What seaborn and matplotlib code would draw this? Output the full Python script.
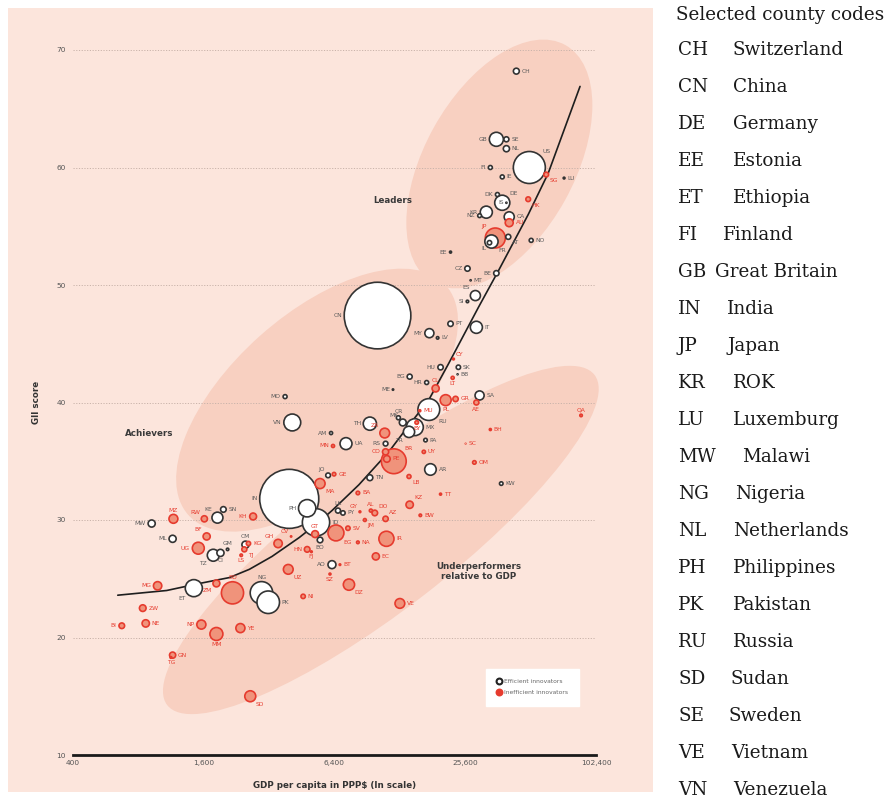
import numpy as np
import pandas as pd
import matplotlib
matplotlib.use("Agg")
import matplotlib.pyplot as plt
import seaborn as sns
from matplotlib.patches import Ellipse, Rectangle
from matplotlib import transforms as mtransforms
from matplotlib.lines import Line2D
from matplotlib.ticker import NullLocator

# ---------------- data ----------------
codes = ["CH","GB","SE","NL","FI","US","SG","LU","IE","DK","DE","IS","HK","KR","NZ","CA","AU","JP","FR","IL",
         "AT","NO","EE","CZ","MT","BE","ES","SI","PT","IT","MY","LV","CY","HU","SK","BB","LT","BG","ME","HR",
         "CL","PL","GR","SA","AE","RU","MU","QA","MO","VN","CR","TH","MK","MX","BY","TR","PA","AM","UA","MN",
         "ZA","RS","CO","BR","PE","BH","SC","OM","KW","AR","UY","LB","KZ","TT","BW","JO","GE","MA","TN","CN",
         "IN","PH","ID","LK","PY","BA","GY","AL","DO","AZ","JM","SV","EG","NA","IR","EC","GT","BO","HN","FJ",
         "AO","BT","SZ","UZ","DZ","NI","VE","NG","PK","MW","MZ","RW","KE","SN","KH","ML","BF","UG","TZ","CI",
         "GM","CM","TJ","KG","LS","GH","CV","MG","ET","ZM","BD","ZW","BI","NE","NP","MM","YE","GN","TG","SD"]

gdp = [44000,35600,39600,39600,33400,50500,60400,73000,37900,36000,37900,39600,49900,32000,29800,40800,40800,35200,33800,33100,
       40400,51500,21900,26200,27100,35600,28500,26200,21900,28800,17500,19100,22600,19700,23800,23600,22400,14200,11900,17000,
       18700,20800,23100,29800,28800,17400,15800,87400,3790,4090,12600,9310,13200,15000,15300,14100,16800,6170,7230,6300,
       10900,11000,11000,12000,11150,33400,25700,28200,37500,17700,16500,14100,14200,19700,15900,5980,6370,5490,9310,10100,
       3960,4790,5260,6640,7000,8200,8380,9410,9810,11000,8830,7380,6500,8200,11100,9920,5210,5490,4790,5010,
       6230,6780,6100,3920,7460,4590,12800,2950,3170,921,1160,1610,1850,1970,2700,1150,1650,1510,1770,1910,
       2060,2490,2460,2570,2380,3520,4040,981,1440,1830,2170,838,671,865,1560,1830,2360,1150,1130,2620]

score = [68.2,62.4,62.4,61.6,60.0,60.0,59.4,59.1,59.2,57.7,57.0,57.0,57.3,56.2,55.9,55.8,55.3,54.0,53.7,53.6,
         54.1,53.8,52.8,51.4,50.4,51.0,49.1,48.6,46.7,46.4,45.9,45.5,43.7,43.0,43.0,42.4,42.1,42.2,41.1,41.7,
         41.2,40.2,40.3,40.6,40.0,39.4,39.3,38.9,40.5,38.3,38.7,38.2,38.3,37.9,38.3,37.5,36.8,37.4,36.5,36.3,
         37.4,36.5,35.8,35.0,35.2,37.7,36.5,34.9,33.1,34.3,35.8,33.7,31.3,32.2,30.4,33.8,33.9,33.1,33.6,47.4,
         31.8,31.0,29.8,30.8,30.6,32.3,30.7,30.8,30.6,30.1,30.0,29.3,28.9,28.1,28.4,26.9,28.8,28.3,27.5,27.3,
         26.2,26.2,25.4,25.8,24.5,23.5,22.9,23.8,23.0,29.7,30.1,30.1,30.2,30.9,30.3,28.4,28.6,27.6,27.0,27.2,
         27.5,27.9,27.5,28.0,27.0,28.0,28.6,24.4,24.2,24.6,23.8,22.5,21.0,21.2,21.1,20.3,20.8,18.5,18.3,15.0]

population = [11,62,8,12,5,323,7,1,5,5,72,0.4,7,46,4.5,32,20,126,55,6,
              8,5,1.3,9,0.4,9,32,2,9,46,26,2,1,9,6,0.3,3,8,0.6,5,
              16,38,9,26,8,150,1.3,2,5,90,5,55,15,90,4,40,4,3,45,3,
              30,7,12,195,14,1.3,0.1,4,4,42,3.4,5,17,1.3,2,7,4,32,11,1400,
              1100,95,235,8,6,4,1,3,10,9,2.7,6,80,2.3,72,16,15,10,10,0.9,
              20,0.8,1.2,30,40,6,30,160,160,16,25,12,38,10,15,16,16,45,45,16,
              1.9,16,8,5.8,2,22,0.5,22,92,15,155,14,10,17,26,53,26,12,1,38]

inefficient_codes = ["SG","HK","AU","JP","CY","LT","CL","PL","GR","AE","MU","QA","BY","MN","ZA","CO","BR","PE",
                     "BH","SC","OM","UY","LB","KZ","TT","BW","GE","MA","BA","GY","AL","DO","AZ","JM","SV","EG",
                     "NA","IR","EC","GT","HN","FJ","BT","SZ","UZ","DZ","NI","VE","MZ","RW","KH","BF","UG","TJ",
                     "KG","LS","GH","CV","MG","ZM","BD","ZW","BI","NE","NP","MM","YE","GN","TG","SD"]

# trend curve
curve_gdp = [643,1080,1529,2100,2594,3300,4399,5400,6230,8290,11379,14000,17360,21445,29440,36364,49920,61660,86450]
curve_score = [23.6,24.0,24.6,25.1,25.8,26.9,28.5,29.8,30.8,33.0,35.8,38.0,40.2,43.3,48.1,51.2,56.0,59.5,66.9]

x_ticks = [400, 1600, 6400, 25600, 102400]
x_ticklabels = ["400", "1,600", "6,400", "25,600", "102,400"]
y_ticks = [10, 20, 30, 40, 50, 60, 70]

legend_labels = ["Efficient innovators", "Inefficient innovators"]

code_list = ["CH","CN","DE","EE","ET","FI","GB","IN","JP","KR","LU","MW","NG","NL","PH","PK","RU","SD","SE","VE","VN"]
name_list = ["Switzerland","China","Germany","Estonia","Ethiopia","Finland","Great Britain","India","Japan","ROK",
             "Luxemburg","Malawi","Nigeria","Netherlands","Philippines","Pakistan","Russia","Sudan","Sweden",
             "Vietnam","Venezuela"]

# ---------------- styling (not data) ----------------
label_pos = {
    "CH":"r","GB":"l","SE":"r","NL":"r","FI":"l","US":"ar","SG":"br","LU":"r","IE":"r","DK":"l","DE":"ar","IS":"l",
    "HK":"br","KR":"l","NZ":"l","CA":"r","AU":"r","JP":"al","FR":"br","IL":"bl","AT":"br","NO":"r","EE":"l","CZ":"l",
    "MT":"r","BE":"l","ES":"al","SI":"l","PT":"r","IT":"r","MY":"l","LV":"r","CY":"ar","HU":"l","SK":"r","BB":"r",
    "LT":"b","BG":"l","ME":"l","HR":"l","CL":"a","PL":"b","GR":"r","SA":"r","AE":"b","RU":"br","MU":"r","QA":"a",
    "MO":"l","VN":"l","CR":"a","TH":"l","MK":"al","MX":"r","BY":"b","TR":"bl","PA":"r","AM":"l","UA":"r","MN":"l",
    "ZA":"al","RS":"l","CO":"l","BR":"ar","PE":"r","BH":"r","SC":"r","OM":"r","KW":"r","AR":"r","UY":"r","LB":"br",
    "KZ":"ar","TT":"r","BW":"r","JO":"al","GE":"r","MA":"br","TN":"r","CN":"l","IN":"l","PH":"l","ID":"r","LK":"a",
    "PY":"r","BA":"r","GY":"al","AL":"a","DO":"ar","AZ":"ar","JM":"br","SV":"r","EG":"br","NA":"r","IR":"r","EC":"r",
    "GT":"a","BO":"b","HN":"l","FJ":"b","AO":"l","BT":"r","SZ":"b","UZ":"br","DZ":"br","NI":"r","VE":"r","NG":"a",
    "PK":"r","MW":"l","MZ":"a","RW":"al","KE":"al","SN":"r","KH":"l","ML":"l","BF":"al","UG":"l","TZ":"bl","CI":"b",
    "GM":"a","CM":"a","TJ":"br","KG":"r","LS":"b","GH":"al","CV":"al","MG":"l","ET":"bl","ZM":"bl","BD":"a","ZW":"r",
    "BI":"l","NE":"r","NP":"l","MM":"b","YE":"r","GN":"r","TG":"b","SD":"br"}

PANEL = "#fce5dc"
ZONE = "#f8d0c1"
RED = "#e63b2e"
SALMON = "#f0937b"
DARK = "#333333"
CHART_FONT = ["Liberation Sans Narrow", "DejaVu Sans"]

sns.set_style("white")
plt.rcParams["font.family"] = CHART_FONT

W, H = 894, 801
fig = plt.figure(figsize=(W / 100, H / 100), dpi=100)
fig.patch.set_facecolor("white")
fig.add_artist(Rectangle((8 / W, 9 / H), 645 / W, 784 / H, transform=fig.transFigure,
                         facecolor=PANEL, edgecolor="none", zorder=-5))

ax = fig.add_axes([73 / W, 46 / H, 523 / W, 705 / H])
ax.patch.set_visible(False)
ax.set_xscale("log", base=4)
ax.set_xlim(400, 102400)
ax.set_ylim(10, 70)

# background zones (sizes in pixels, centred on data coordinates)
zones = [((36750, 60.3), 272, 150, 61),
         ((5320, 40.2), 345, 172, 41.7),
         ((10460, 28.3), 540, 140, 37.7)]
for (cx, cy), w, h, ang in zones:
    e = Ellipse((0, 0), w, h, angle=ang, facecolor=ZONE, edgecolor="none", zorder=0.3,
                transform=mtransforms.ScaledTranslation(cx, cy, ax.transData), clip_on=False)
    ax.add_patch(e)

for v in y_ticks[1:]:
    ax.axhline(v, color="#c9b3aa", lw=0.7, ls=(0, (1.2, 1.6)), zorder=1)

ax.plot(curve_gdp, curve_score, color="#1e1e1e", lw=1.2, zorder=2, solid_capstyle="round",
        solid_joinstyle="round")

df = pd.DataFrame({"code": codes, "gdp": gdp, "score": score, "pop": population})
df["type"] = np.where(df["code"].isin(inefficient_codes), legend_labels[1], legend_labels[0])
df = df.sort_values("pop", ascending=False).reset_index(drop=True)

sns.scatterplot(data=df, x="gdp", y="score", hue="type",
                palette={legend_labels[0]: "white", legend_labels[1]: SALMON},
                size="pop", sizes=(0, 2300), size_norm=(0, 1400), legend=False,
                linewidth=1.2, ax=ax, zorder=3, clip_on=False)
coll = ax.collections[-1]
edges = [DARK if t == legend_labels[0] else RED for t in df["type"]]
coll.set_edgecolors(edges)

# point labels
for _, row in df.iterrows():
    s = 1.6428 * row["pop"]
    r = np.sqrt(s) / 2 + 0.9
    pos = label_pos.get(row["code"], "r")
    d = r * 0.72 + 0.6
    offs = {"r": ((r + 0.8, 0), "left", "center"), "l": ((-(r + 0.8), 0), "right", "center"),
            "a": ((0, r + 0.4), "center", "bottom"), "b": ((0, -(r + 0.4)), "center", "top"),
            "ar": ((d, d), "left", "bottom"), "al": ((-d, d), "right", "bottom"),
            "br": ((d, -d), "left", "top"), "bl": ((-d, -d), "right", "top")}
    (dx, dy), ha, va = offs[pos]
    col = "#5a5a5a" if row["type"] == legend_labels[0] else RED
    ax.annotate(row["code"], (row["gdp"], row["score"]), xytext=(dx, dy), textcoords="offset points",
                ha=ha, va=va, fontsize=4.3, color=col, zorder=5, annotation_clip=False)

# region labels
ax.text(900, 37.4, "Achievers", fontsize=6.3, fontweight="bold", color="#3a3a3a", ha="center", va="center")
ax.text(11860, 57.2, "Leaders", fontsize=6.3, fontweight="bold", color="#3a3a3a", ha="center", va="center")
ax.text(29440, 25.6, "Underperformers\nrelative to GDP", fontsize=6.3, fontweight="bold",
        color="#3a3a3a", ha="center", va="center", linespacing=1.2)

# axes
for sp in ["left", "right", "top"]:
    ax.spines[sp].set_visible(False)
ax.spines["bottom"].set_color("#1a1a1a")
ax.spines["bottom"].set_linewidth(2.0)
ax.spines["bottom"].set_zorder(2)
ax.set_xticks(x_ticks)
ax.set_xticklabels(x_ticklabels)
ax.xaxis.set_minor_locator(NullLocator())
ax.set_yticks(y_ticks)
ax.set_yticklabels([str(v) for v in y_ticks])
ax.tick_params(axis="x", length=0, labelsize=5.3, colors="#555555", pad=3.5)
ax.tick_params(axis="y", length=0, labelsize=5.3, colors="#555555", pad=5)
ax.set_xlabel("GDP per capita in PPP$ (ln scale)", fontsize=6.3, fontweight="bold", color="#333333")
ax.set_ylabel("GII score", fontsize=6.3, fontweight="bold", color="#333333")
ax.xaxis.set_label_coords(0.5, -0.037)
ax.yaxis.set_label_coords(-0.062, 0.5)

handles = [Line2D([0], [0], marker="o", ls="", markerfacecolor="white", markeredgecolor="#222222",
                  markeredgewidth=1.5, markersize=4.2),
           Line2D([0], [0], marker="o", ls="", markerfacecolor=RED, markeredgecolor=RED,
                  markeredgewidth=1.5, markersize=4.2)]
leg = ax.legend(handles, legend_labels, loc="center", bbox_to_anchor=(0.878, 0.096), frameon=True,
                fancybox=False, framealpha=1, facecolor="white", edgecolor="white", fontsize=4.3,
                borderpad=1.7, handletextpad=0.4, labelspacing=1.0, handlelength=1.0, borderaxespad=0)
for t in leg.get_texts():
    t.set_color("#666666")
leg.set_zorder(6)

# right-hand code list
serif = ["DejaVu Serif"]
fig.text(676 / W, 1 - 15 / H, "Selected county codes", fontsize=13.2, family=serif, va="center", ha="left",
         color="#1a1a1a")
name_x = {"FI": 723, "GB": 715, "IN": 727, "JP": 728, "MW": 742, "NG": 735, "SD": 730, "SE": 729, "VE": 731}
for i, (c, n) in enumerate(zip(code_list, name_list)):
    y = 50 + i * 37.0
    fig.text(678 / W, 1 - y / H, c, fontsize=13.2, family=serif, va="center", ha="left", color="#1a1a1a")
    fig.text(name_x.get(c, 733) / W, 1 - y / H, n, fontsize=13.2, family=serif, va="center", ha="left",
             color="#1a1a1a")

fig.savefig("out.png", dpi=100)
